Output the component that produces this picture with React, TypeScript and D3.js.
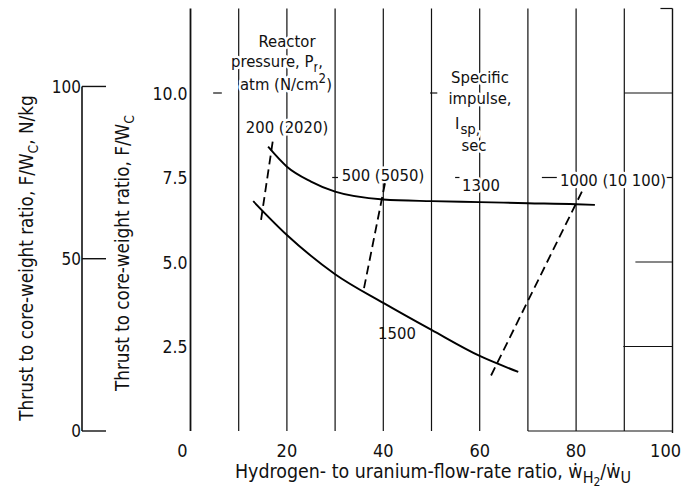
import React from "react";
import * as d3 from "d3";

// ---- data ----
const xTicks = [0, 20, 40, 60, 80, 100];
const gridX = [10, 20, 30, 40, 50, 60, 70, 80, 90];
const yTicks = [2.5, 5.0, 7.5, 10.0];
const yTickLabels = ["2.5", "5.0", "7.5", "10.0"];
const nkgTicks = [0, 50, 100];

const isp1300X = [16.1, 20, 25, 30, 40, 50, 60, 70, 80, 83.9];
const isp1300Y = [8.41, 7.82, 7.38, 7.08, 6.85, 6.8, 6.77, 6.74, 6.71, 6.69];
const isp1500X = [13.0, 20, 30, 40, 50, 60, 68.0];
const isp1500Y = [6.8, 5.8, 4.64, 3.79, 2.99, 2.22, 1.75];

const pressureLabels = ["200 (2020)", "500 (5050)", "1000 (10 100)"];
const p200 = [[17.05, 8.56], [14.56, 6.17]];
const p500 = [[40.35, 7.33], [35.85, 4.12]];
const p1000 = [[81.2, 7.08], [61.9, 1.51]];

// horizontal grid remnants: [y, x0, x1]
const hFragments = [
  [12.5, 97.5, 100],
  [10, 4.7, 6.5],
  [10, 49.7, 51.2],
  [10, 90, 100],
  [7.5, 29.4, 30.6],
  [7.5, 54.9, 55.8],
  [7.5, 72.9, 76.0],
  [7.5, 98, 100],
  [5.0, 92.3, 100],
  [2.5, 89.8, 100],
  [0, 70, 100],
];

const FONT = "'DejaVu Sans Condensed', 'DejaVu Sans', sans-serif";

export default function App() {
  const W = 681;
  const H = 492;
  const x = d3.scaleLinear().domain([0, 100]).range([190.5, 672.5]);
  const y = d3.scaleLinear().domain([0, 12.5]).range([431, 8.5]);
  const yN = d3.scaleLinear().domain([0, 100]).range([y(0), y(100 / 9.81)]);

  const line = d3
    .line<[number, number]>()
    .x((d) => x(d[0]))
    .y((d) => y(d[1]))
    .curve(d3.curveMonotoneX);
  const straight = d3
    .line<number[]>()
    .x((d) => x(d[0]))
    .y((d) => y(d[1]));

  const c1300 = isp1300X.map((v, i) => [v, isp1300Y[i]] as [number, number]);
  const c1500 = isp1500X.map((v, i) => [v, isp1500Y[i]] as [number, number]);

  const halo = { stroke: "#fff", strokeWidth: 5, paintOrder: "stroke", strokeLinejoin: "round" };
  const fs = 16.5;
  const axN = 82;

  return (
    <svg
      width={W}
      height={H}
      style={{ position: "absolute", left: 0, top: 0, background: "#fff" }}
      fontFamily={FONT}
    >
      <rect width={W} height={H} fill="#fff" />
      {/* vertical grid */}
      {gridX.map((g) => (
        <line key={g} x1={x(g)} x2={x(g)} y1={y(12.5)} y2={y(0)} stroke="#111" strokeWidth={1.2} />
      ))}
      {/* right edge */}
      <line x1={x(100)} x2={x(100)} y1={y(12.5)} y2={y(0) + 2} stroke="#111" strokeWidth={1.4} />
      {/* horizontal fragments */}
      {hFragments.map((f, i) => (
        <line key={i} x1={x(f[1])} x2={x(f[2])} y1={y(f[0])} y2={y(f[0])} stroke="#111" strokeWidth={1.2} />
      ))}
      {/* left axis */}
      <line x1={x(0)} x2={x(0)} y1={y(12.5)} y2={y(0)} stroke="#111" strokeWidth={1.8} />

      {/* annotations with halos (cut grid lines) */}
      <g fontSize={fs} fill="#111" style={halo as any}>
        <text x={287} y={47} textAnchor="middle">Reactor</text>
        <text x={231} y={67}>
          pressure, P<tspan dy={5} fontSize={fs * 0.8}>r</tspan>
          <tspan dy={-5}>,</tspan>
        </text>
        <text x={240} y={90}>
          atm (N/cm<tspan dy={-7} fontSize={fs * 0.8}>2</tspan>
          <tspan dy={7}>)</tspan>
        </text>
        <text x={287} y={133} textAnchor="middle">{pressureLabels[0]}</text>

        <text x={480} y={83} textAnchor="middle">Specific</text>
        <text x={480} y={104} textAnchor="middle">impulse,</text>
        <text x={455} y={129}>
          I<tspan dx={1} dy={5} fontSize={fs * 0.9}>sp,</tspan>
        </text>
        <text x={474} y={151} textAnchor="middle">sec</text>

        <text x={383} y={181} textAnchor="middle">{pressureLabels[1]}</text>
        <text x={481} y={191} textAnchor="middle">1300</text>
        <text x={613} y={186} textAnchor="middle">{pressureLabels[2]}</text>
      </g>
      <text x={397} y={339} textAnchor="middle" fontSize={fs} fill="#111">1500</text>

      {/* curves */}
      <path d={line(c1300) || ""} fill="none" stroke="#000" strokeWidth={1.9} />
      <path d={line(c1500) || ""} fill="none" stroke="#000" strokeWidth={1.9} />
      {[p200, p500, p1000].map((p, i) => (
        <path key={i} d={straight(p) || ""} fill="none" stroke="#000" strokeWidth={1.8} strokeDasharray="9,5" />
      ))}

      {/* left ratio axis tick labels */}
      {yTicks.map((t, i) => (
        <text key={t} x={x(0) - 3} y={y(t)} dy="0.38em" textAnchor="end" fontSize={17.5} fill="#111">
          {yTickLabels[i]}
        </text>
      ))}

      {/* N/kg axis */}
      <line x1={axN} x2={axN} y1={yN(100)} y2={yN(0)} stroke="#111" strokeWidth={1.6} />
      {nkgTicks.map((t) => (
        <g key={t}>
          <line x1={axN} x2={axN + 24} y1={yN(t)} y2={yN(t)} stroke="#111" strokeWidth={1.4} />
          <text x={axN - 1} y={yN(t)} dy="0.38em" textAnchor="end" fontSize={17} fill="#111">
            {t}
          </text>
        </g>
      ))}

      {/* x tick labels */}
      {xTicks.map((t) => (
        <text
          key={t}
          x={t === 100 ? 681 : x(t) - (t === 0 ? 8 : 0)}
          y={457}
          textAnchor={t === 100 ? "end" : "middle"}
          fontSize={18}
          fill="#111"
        >
          {t}
        </text>
      ))}

      {/* x axis title */}
      <text x={235} y={478} fontSize={19.4} fill="#111">
        Hydrogen- to uranium-flow-rate ratio, ẇ<tspan dy={5} fontSize={16}>H</tspan>
        <tspan dy={3} fontSize={12}>2</tspan>
        <tspan dy={-8}>/ẇ</tspan>
        <tspan dy={5} fontSize={16}>U</tspan>
      </text>

      {/* y axis titles */}
      <text transform="translate(33,258) rotate(-90)" textAnchor="middle" fontSize={18.7} fill="#111">
        Thrust to core-weight ratio, F/W<tspan dy={5} fontSize={14}>C</tspan>
        <tspan dy={-5}>, N/kg</tspan>
      </text>
      <text transform="translate(129,253) rotate(-90)" textAnchor="middle" fontSize={18.7} fill="#111">
        Thrust to core-weight ratio, F/W<tspan dy={5} fontSize={14}>C</tspan>
      </text>
    </svg>
  );
}
